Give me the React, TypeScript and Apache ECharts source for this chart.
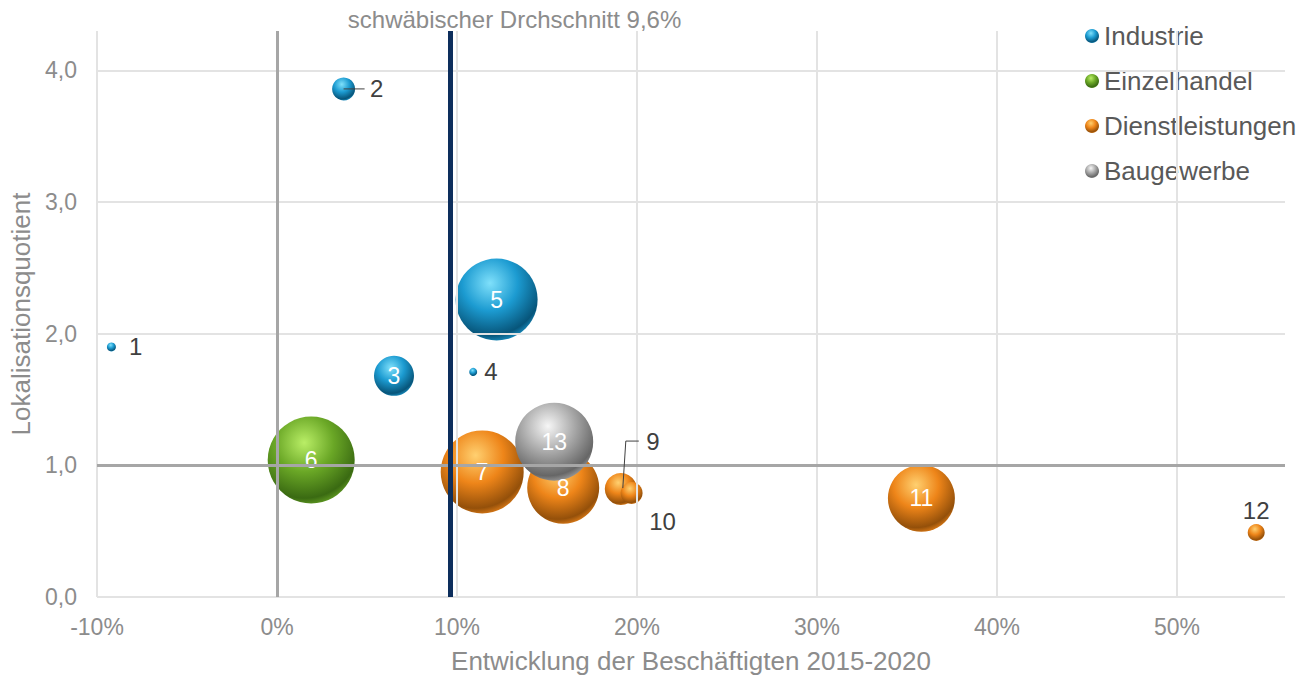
import React, { useEffect, useRef } from 'react';
import * as echarts from 'echarts';

const categories = ['Industrie', 'Einzelhandel', 'Dienstleistungen', 'Baugewerbe'];

const industrieIds = [1, 2, 3, 4, 5];
const industrieX = [-9.2, 3.7, 6.5, 10.9, 12.2];
const industrieY = [1.9, 3.86, 1.68, 1.71, 2.26];
const industrieSize = [9, 23, 40, 8, 82];

const einzelIds = [6];
const einzelX = [1.9];
const einzelY = [1.04];
const einzelSize = [87];

const dienstIds = [7, 8, 9, 10, 11, 12];
const dienstX = [11.4, 15.9, 19.1, 19.7, 35.8, 54.4];
const dienstY = [0.95, 0.83, 0.82, 0.79, 0.75, 0.49];
const dienstSize = [83, 72, 32, 22, 67, 17];

const bauIds = [13];
const bauX = [15.4];
const bauY = [1.18];
const bauSize = [78];

const xTicks = [-10, 0, 10, 20, 30, 40, 50];
const yTicks = [0, 1, 2, 3, 4];
const averageX = 9.6;
const averageLabel = 'schwäbischer Drchschnitt 9,6%';

const insideIds = [3, 5, 6, 7, 8, 11, 13];

const FONT = '"Liberation Sans", Arial, sans-serif';

function grad(light: string, base: string, dark: string) {
  return new echarts.graphic.RadialGradient(0.42, 0.3, 0.75, [
    { offset: 0, color: light },
    { offset: 0.45, color: base },
    { offset: 0.85, color: dark },
    { offset: 1, color: base },
  ]);
}

const palettes = [
  grad('#7fe0fb', '#1c9bd1', '#07557a'),
  grad('#b9ee66', '#6aa726', '#3a6a12'),
  grad('#ffd070', '#ee8519', '#94500a'),
  grad('#f6f6f6', '#a9a9a9', '#666666'),
];

function labelFor(id: number) {
  const outsideColor = '#404040';
  if (insideIds.includes(id)) {
    return { show: true, position: 'inside', color: '#ffffff', fontSize: 23, fontFamily: FONT };
  }
  const base = { show: true, color: outsideColor, fontSize: 24, fontFamily: FONT };
  switch (id) {
    case 1:
      return { ...base, position: 'right', distance: 13 };
    case 2:
      return { ...base, position: 'right', distance: 15 };
    case 4:
      return { ...base, position: 'right', distance: 7 };
    case 9:
      return { ...base, position: 'inside', offset: [32, -48] };
    case 10:
      return { ...base, position: 'inside', offset: [31, 28] };
    case 12:
      return { ...base, position: 'top', distance: 2 };
    default:
      return base;
  }
}

function makeData(ids: number[], xs: number[], ys: number[], sizes: number[]) {
  return ids.map((id, i) => ({
    value: [xs[i], ys[i], sizes[i], id],
    label: labelFor(id),
  }));
}

export default function App() {
  const ref = useRef<HTMLDivElement>(null);

  useEffect(() => {
    if (!ref.current) return;
    const chart = echarts.init(ref.current, null, { renderer: 'svg' });

    const bubbleSeries = (name: string, data: any[], idx: number) => ({
      name,
      type: 'scatter',
      z: 2,
      data,
      symbol: 'circle',
      symbolSize: (v: number[]) => v[2],
      itemStyle: { color: palettes[idx], opacity: 1 },
      label: { formatter: (p: any) => String(p.value[3]) },
      emphasis: { disabled: true },
    });

    const option: any = {
      animation: false,
      textStyle: { fontFamily: FONT },
      grid: { left: 97, right: 30, top: 31, bottom: 81 },
      xAxis: {
        type: 'value',
        min: -10,
        max: 56,
        interval: 10,
        name: 'Entwicklung der Beschäftigten 2015-2020',
        nameLocation: 'middle',
        nameGap: 51,
        nameTextStyle: { color: '#8c8c8c', fontSize: 26, fontFamily: FONT },
        axisLine: { show: false },
        axisTick: { show: false },
        splitLine: { show: false },
        axisLabel: {
          color: '#8c8c8c',
          fontSize: 23,
          margin: 18,
          fontFamily: FONT,
          showMaxLabel: false,
          formatter: (v: number) => (xTicks.includes(v) ? `${v}%` : ''),
        },
      },
      yAxis: {
        type: 'value',
        min: 0,
        max: 4.3,
        interval: 1,
        name: 'Lokalisationsquotient',
        nameLocation: 'middle',
        nameGap: 59,
        nameTextStyle: { color: '#8c8c8c', fontSize: 26, fontFamily: FONT },
        axisLine: { show: false },
        axisTick: { show: false },
        splitLine: { show: false },
        axisLabel: {
          color: '#8c8c8c',
          fontSize: 23,
          margin: 20,
          fontFamily: FONT,
          showMaxLabel: false,
          formatter: (v: number) => (yTicks.includes(v) ? v.toFixed(1).replace('.', ',') : ''),
        },
      },
      legend: {
        data: categories,
        orient: 'vertical',
        left: 1080,
        top: 18,
        itemWidth: 14,
        itemHeight: 14,
        itemGap: 19,
        icon: 'circle',
        textStyle: { color: '#595959', fontSize: 26, fontFamily: FONT },
        selectedMode: false,
      },
      series: [
        {
          name: 'grid-lines',
          type: 'line',
          data: [],
          z: 1,
          markLine: {
            silent: true,
            symbol: 'none',
            label: { show: false },
            animation: false,
            data: [
              ...xTicks.map((v) => ({ xAxis: v, lineStyle: { color: '#e3e3e3', width: 2, type: 'solid' } })),
              ...yTicks.map((v) => ({ yAxis: v, lineStyle: { color: '#e3e3e3', width: 2, type: 'solid' } })),
              { xAxis: 0, lineStyle: { color: '#a6a6a6', width: 3, type: 'solid' } },
              { yAxis: 1, lineStyle: { color: '#a6a6a6', width: 3, type: 'solid' } },
            ],
          },
        },
        bubbleSeries(categories[0], makeData(industrieIds, industrieX, industrieY, industrieSize), 0),
        bubbleSeries(categories[1], makeData(einzelIds, einzelX, einzelY, einzelSize), 1),
        bubbleSeries(categories[2], makeData(dienstIds, dienstX, dienstY, dienstSize), 2),
        bubbleSeries(categories[3], makeData(bauIds, bauX, bauY, bauSize), 3),
        {
          name: 'average',
          type: 'line',
          data: [],
          z: 5,
          markLine: {
            silent: true,
            symbol: 'none',
            label: { show: false },
            animation: false,
            data: [{ xAxis: averageX, lineStyle: { color: '#0d2e5c', width: 5, type: 'solid' } }],
          },
        },
      ],
    };

    chart.setOption(option);

    const p2 = chart.convertToPixel({ gridIndex: 0 }, [industrieX[1], industrieY[1]]) as number[];
    const p9 = chart.convertToPixel({ gridIndex: 0 }, [dienstX[2], dienstY[2]]) as number[];
    const pAvg = chart.convertToPixel({ gridIndex: 0 }, [averageX, 4.3]) as number[];

    chart.setOption({
      graphic: [
        {
          type: 'text',
          left: pAvg[0] - 102,
          top: 7,
          style: { text: averageLabel, fill: '#8c8c8c', fontSize: 24, fontFamily: FONT },
          silent: true,
          z: 10,
        },
        {
          type: 'line',
          shape: { x1: p2[0], y1: p2[1], x2: p2[0] + 21, y2: p2[1] },
          style: { stroke: '#404040', lineWidth: 1 },
          silent: true,
          z: 10,
        },
        {
          type: 'polyline',
          shape: {
            points: [
              [p9[0] + 2, p9[1] - 1],
              [p9[0] + 5, p9[1] - 48],
              [p9[0] + 18, p9[1] - 48],
            ],
          },
          style: { stroke: '#404040', lineWidth: 1, fill: 'none' },
          silent: true,
          z: 10,
        },
      ],
    });

    return () => chart.dispose();
  }, []);

  return (
    <div
      ref={ref}
      style={{ position: 'absolute', left: 0, top: 0, width: 1315, height: 679, background: '#ffffff' }}
    />
  );
}
